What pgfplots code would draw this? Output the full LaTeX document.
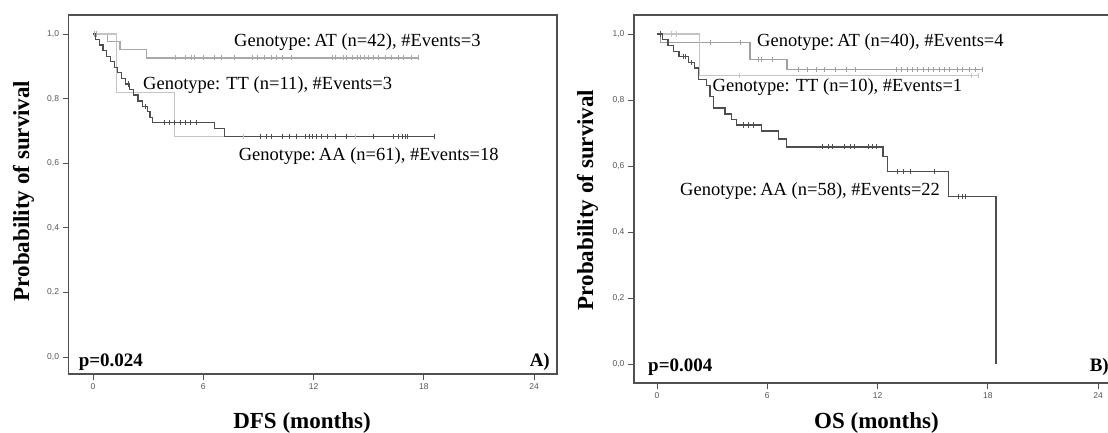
\documentclass[border=0pt]{standalone}
\usepackage{pgfplots}
\pgfplotsset{compat=1.18}
\usepackage{fontspec}
\setmainfont{Liberation Serif}
\setsansfont{Liberation Sans}
\definecolor{frame}{HTML}{505050}
\definecolor{ticklab}{HTML}{555555}
\definecolor{aacol}{HTML}{4E4E4E}
\definecolor{atA}{HTML}{A8A8A8}
\definecolor{ttA}{HTML}{C4C4C4}
\definecolor{atB}{HTML}{A0A0A0}
\definecolor{ttB}{HTML}{C4C4C4}
\pgfplotsset{
  kmaxis/.style={
    scale only axis,
    axis line style={frame, line width=1.1pt},
    tick style={frame, line width=0.8pt},
    tick align=outside, major tick length=6pt,
    xtick pos=left, ytick pos=left,
    ytick={0,0.2,0.4,0.6,0.8,1},
    yticklabels={{0,0},{0,2},{0,4},{0,6},{0,8},{1,0}},
    xtick={0,6,12,18,24},
    xticklabels={0,6,12,18,24},
    tick label style={font=\sffamily\fontsize{8.5}{9}\selectfont, text=ticklab},
  },
  kmline/.style={const plot, mark=none, line width=1.3pt, color=#1},
  cens/.style={only marks, mark=|, mark size=2.6pt, color=#1, mark options={line width=0.8pt}},
}
\newcommand{\ann}{\fontsize{18.5}{20}\selectfont}
\newcommand{\bl}{\bfseries\fontsize{23}{24}\selectfont}
\newcommand{\pv}{\bfseries\fontsize{19}{20}\selectfont}
\begin{document}
\begin{tikzpicture}[x=1pt,y=1pt]
\useasboundingbox (0,0) rectangle (1108,432);
% ---------------- Panel A ----------------
\begin{axis}[kmaxis, at={(68.6pt,58pt)}, anchor=south west,
  width=488.4pt, height=359pt,
  xmin=-1.33, xmax=25.25, ymin=-0.0526, ymax=1.0588]
\addplot[kmline=atA] coordinates {(0,1) (0.78,0.976) (1.46,0.952) (2.91,0.926) (17.68,0.926)};
\addplot[cens=atA] coordinates {(0.1,1) (0.2,1) (4.47,0.926) (5.05,0.926) (5.34,0.926) (5.54,0.926) (6.02,0.926) (6.61,0.926) (7.0,0.926) (7.68,0.926) (8.65,0.926) (8.94,0.926) (9.33,0.926) (9.72,0.926) (10.0,0.926) (10.3,0.926) (10.78,0.926) (13.02,0.926) (13.21,0.926) (13.6,0.926) (13.8,0.926) (14.09,0.926) (14.38,0.926) (14.57,0.926) (14.77,0.926) (14.96,0.926) (15.25,0.926) (15.55,0.926) (15.93,0.926) (16.23,0.926) (16.62,0.926) (16.91,0.926) (17.3,0.926) (17.68,0.926)};
\addplot[kmline=ttA] coordinates {(0,1) (1.28,0.818) (4.45,0.682) (16.6,0.682)};
\addplot[cens=ttA] coordinates {(8.2,0.682) (14.3,0.682) (16.6,0.682)};
\addplot[kmline=aacol] coordinates {(0,1) (0.15,0.983) (0.35,0.966) (0.55,0.948) (0.75,0.931) (0.95,0.914) (1.15,0.897) (1.35,0.880) (1.55,0.862) (1.75,0.845) (2.0,0.828) (2.2,0.811) (2.45,0.793) (2.7,0.776) (2.95,0.759) (3.1,0.742) (3.25,0.725) (6.6,0.708) (7.15,0.683) (18.56,0.683)};
\addplot[cens=aacol] coordinates {(1.93,0.845) (2.83,0.776) (3.9,0.725) (4.18,0.725) (4.45,0.725) (4.75,0.725) (5.02,0.725) (5.32,0.725) (5.62,0.725) (9.13,0.683) (9.42,0.683) (9.72,0.683) (10.3,0.683) (10.69,0.683) (11.08,0.683) (11.56,0.683) (11.76,0.683) (11.95,0.683) (12.15,0.683) (12.44,0.683) (12.73,0.683) (13.21,0.683) (13.8,0.683) (15.25,0.683) (16.32,0.683) (16.62,0.683) (16.81,0.683) (17.0,0.683) (17.1,0.683) (18.56,0.683)};
\end{axis}
% ---------------- Panel B ----------------
\begin{axis}[kmaxis, at={(634pt,49pt)}, anchor=south west,
  width=485pt, height=368pt,
  xmin=-1.252, xmax=25.14, ymin=-0.0576, ymax=1.0576]
\addplot[kmline=atB] coordinates {(0,1) (0.19,0.975) (5.06,0.922) (7.08,0.892) (17.68,0.892)};
\addplot[cens=atB] coordinates {(2.9,0.975) (4.52,0.975) (5.5,0.922) (5.7,0.922) (6.3,0.922) (7.68,0.892) (8.16,0.892) (8.65,0.892) (9.13,0.892) (9.72,0.892) (10.3,0.892) (10.79,0.892) (13.02,0.892) (13.31,0.892) (13.6,0.892) (13.89,0.892) (14.19,0.892) (14.48,0.892) (14.77,0.892) (15.06,0.892) (15.35,0.892) (15.64,0.892) (15.93,0.892) (16.32,0.892) (16.62,0.892) (17.0,0.892) (17.3,0.892) (17.68,0.892)};
\addplot[kmline=ttB] coordinates {(0,1) (2.3,0.875) (17.5,0.875)};
\addplot[cens=ttB] coordinates {(0.78,1) (1.07,1) (4.5,0.875) (17.1,0.875) (17.5,0.875)};
\addplot[kmline=aacol] coordinates {(0,1) (0.3,0.983) (0.6,0.966) (0.9,0.948) (1.2,0.931) (1.7,0.914) (2.05,0.897) (2.25,0.862) (2.7,0.845) (2.88,0.810) (3.06,0.776) (3.7,0.758) (4.06,0.741) (4.34,0.724) (5.7,0.706) (6.6,0.682) (7.05,0.658) (12.3,0.628) (12.55,0.583) (15.85,0.507) (18.45,0)};
\addplot[cens=aacol] coordinates {(0.2,1) (1.45,0.931) (1.55,0.931) (1.85,0.914) (4.7,0.724) (4.95,0.724) (5.25,0.724) (9.0,0.658) (9.3,0.658) (9.55,0.658) (10.2,0.658) (10.5,0.658) (10.75,0.658) (11.5,0.658) (11.7,0.658) (11.95,0.658) (13.1,0.583) (13.4,0.583) (13.8,0.583) (15.1,0.583) (16.4,0.507) (16.6,0.507) (16.8,0.507)};
\end{axis}
% ---------------- Text ----------------
\node[anchor=base west, inner sep=0pt] at (234,385) {\ann Genotype:\,AT (n=42), \#Events=3};
\node[anchor=base west, inner sep=0pt] at (143,342) {\ann Genotype: TT (n=11), \#Events=3};
\node[anchor=base west, inner sep=0pt] at (238.6,272) {\ann Genotype:\,AA (n=61), \#Events=18};
\node[anchor=base west, inner sep=0pt] at (78.6,65.5) {\pv p=0.024};
\node[anchor=base east, inner sep=0pt] at (550,66) {\pv A)};
\node[rotate=90, anchor=base, inner sep=0pt] at (29,241) {\bl Probability of survival};
\node[anchor=base, inner sep=0pt] at (302,4) {\bl DFS (months)};
\node[anchor=base west, inner sep=0pt] at (757,385.3) {\ann Genotype:\,AT (n=40), \#Events=4};
\node[anchor=base west, inner sep=0pt] at (712.5,341) {\ann Genotype: TT (n=10), \#Events=1};
\node[anchor=base west, inner sep=0pt] at (680,237) {\ann Genotype:\,AA (n=58), \#Events=22};
\node[anchor=base west, inner sep=0pt] at (648,61) {\pv p=0.004};
\node[anchor=base east, inner sep=0pt] at (1109,61) {\pv B)};
\node[rotate=90, anchor=base, inner sep=0pt] at (593,232) {\bl Probability of survival};
\node[anchor=base, inner sep=0pt] at (876.5,4) {\bl OS (months)};
\end{tikzpicture}
\end{document}
